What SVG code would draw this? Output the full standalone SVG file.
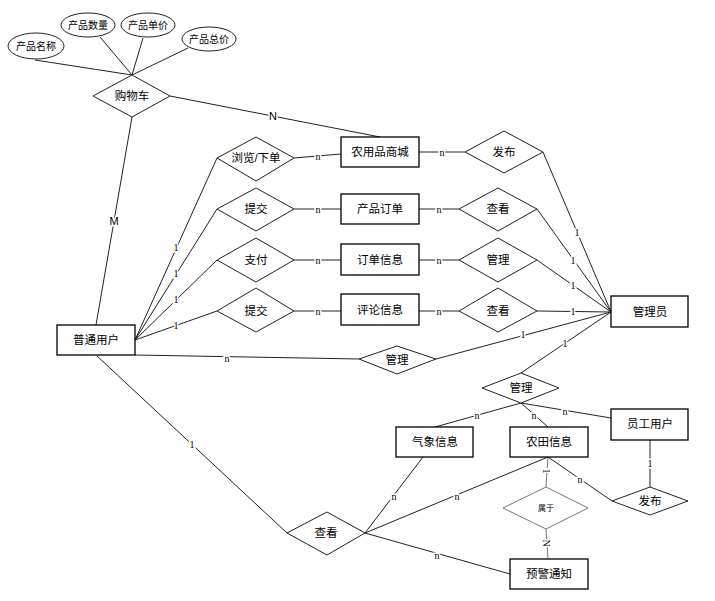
<svg xmlns="http://www.w3.org/2000/svg" width="715" height="601" viewBox="0 0 715 601">
<style>
.bg{fill:#fff}
.ent rect{fill:#fff;stroke:#000;stroke-width:1.3}
.rel polygon{fill:#fff;stroke:#222;stroke-width:1}
.attr ellipse{fill:#fff;stroke:#222;stroke-width:1}
text{font-family:"Liberation Sans","Noto Sans CJK SC",sans-serif;text-anchor:middle;dominant-baseline:central;fill:#000}
.t{font-size:11.5px}
.ta{font-size:10px}
.edges line{stroke:#222;stroke-width:1}
.edges line.g{stroke:#777}
.lbl{font-family:"Liberation Serif","Noto Sans CJK SC",serif;font-size:10px;paint-order:stroke;stroke:#fff;stroke-width:3px}
.lbs{font-size:11px;paint-order:stroke;stroke:#fff;stroke-width:3px}
</style>
<rect class="bg" x="0" y="0" width="715" height="601"/>
<g id="connectors" class="edges">
<line x1="35" y1="60" x2="132" y2="75"/>
<line x1="100" y1="37" x2="132" y2="75"/>
<line x1="143" y1="38" x2="132" y2="75"/>
<line x1="188" y1="48" x2="132" y2="75"/>
<line x1="170" y1="96" x2="380" y2="137"/>
<line x1="132" y1="117" x2="96" y2="325"/>
<line x1="135" y1="340" x2="217" y2="158"/>
<line x1="135" y1="340" x2="217" y2="209"/>
<line x1="135" y1="340" x2="217" y2="260"/>
<line x1="135" y1="340" x2="217" y2="311"/>
<line x1="294" y1="158" x2="341" y2="154"/>
<line x1="294" y1="209" x2="341" y2="209"/>
<line x1="294" y1="260" x2="341" y2="260"/>
<line x1="294" y1="311" x2="341" y2="311"/>
<line x1="419" y1="152" x2="465" y2="152"/>
<line x1="419" y1="209" x2="459" y2="209"/>
<line x1="419" y1="260" x2="459" y2="260"/>
<line x1="419" y1="311" x2="459" y2="311"/>
<line x1="543" y1="152" x2="611" y2="312"/>
<line x1="537" y1="209" x2="611" y2="312"/>
<line x1="537" y1="260" x2="611" y2="312"/>
<line x1="537" y1="311" x2="611" y2="312"/>
<line x1="436" y1="359" x2="611" y2="312"/>
<line x1="521" y1="373" x2="611" y2="312"/>
<line x1="135" y1="355" x2="359" y2="359"/>
<line x1="521" y1="403" x2="435" y2="427"/>
<line x1="521" y1="403" x2="548" y2="427"/>
<line x1="521" y1="403" x2="611" y2="418"/>
<line x1="650" y1="440" x2="650" y2="487"/>
<line x1="548" y1="457" x2="612" y2="501"/>
<line class="g" x1="548" y1="457" x2="546" y2="487"/>
<line class="g" x1="546" y1="529" x2="548" y2="559"/>
<line x1="97" y1="356" x2="287" y2="533"/>
<line x1="365" y1="533" x2="423" y2="457"/>
<line x1="365" y1="533" x2="548" y2="457"/>
<line x1="365" y1="533" x2="510" y2="574"/>
<text class="lbs" x="273" y="116">N</text>
<text class="lbs" x="114" y="221">M</text>
<text class="lbl" x="176" y="247">1</text>
<text class="lbl" x="176" y="273">1</text>
<text class="lbl" x="176" y="299">1</text>
<text class="lbl" x="176" y="325">1</text>
<text class="lbl" x="318" y="156">n</text>
<text class="lbl" x="318" y="209">n</text>
<text class="lbl" x="318" y="260">n</text>
<text class="lbl" x="318" y="311">n</text>
<text class="lbl" x="442" y="152">n</text>
<text class="lbl" x="439" y="209">n</text>
<text class="lbl" x="439" y="260">n</text>
<text class="lbl" x="439" y="311">n</text>
<text class="lbl" x="577" y="232">1</text>
<text class="lbl" x="573" y="260">1</text>
<text class="lbl" x="573" y="285">1</text>
<text class="lbl" x="573" y="311">1</text>
<text class="lbl" x="523" y="334">1</text>
<text class="lbl" x="565" y="343">1</text>
<text class="lbl" x="227" y="358">n</text>
<text class="lbl" x="477" y="415">n</text>
<text class="lbl" x="534" y="415">n</text>
<text class="lbl" x="565" y="411">n</text>
<text class="lbl" x="650" y="463">1</text>
<text class="lbl" x="580" y="479">n</text>
<text class="lbl" x="546" y="471" transform="rotate(90 546 471)">1</text>
<text class="lbl" x="546" y="543" transform="rotate(90 546 543)">N</text>
<text class="lbl" x="192" y="444">1</text>
<text class="lbl" x="394" y="496">n</text>
<text class="lbl" x="457" y="496">n</text>
<text class="lbl" x="437" y="555">n</text>
</g>
<g id="attr-name" class="attr"><ellipse cx="36" cy="46" rx="28" ry="13"/><text class="ta" x="36" y="46">产品名称</text></g>
<g id="attr-qty" class="attr"><ellipse cx="88" cy="25" rx="27" ry="12"/><text class="ta" x="88" y="25">产品数量</text></g>
<g id="attr-price" class="attr"><ellipse cx="148" cy="25" rx="27" ry="12"/><text class="ta" x="148" y="25">产品单价</text></g>
<g id="attr-total" class="attr"><ellipse cx="209" cy="39" rx="27" ry="12"/><text class="ta" x="209" y="39">产品总价</text></g>
<g id="rel-cart" class="rel"><polygon points="132,75 170,96 132,117 93,96"/><text class="t" x="132" y="96">购物车</text></g>
<g id="rel-browse" class="rel"><polygon points="256,137 294,158 256,181 217,158"/><text class="t" x="256" y="158">浏览/下单</text></g>
<g id="rel-submit1" class="rel"><polygon points="256,188 294,209 256,231 217,209"/><text class="t" x="256" y="209">提交</text></g>
<g id="rel-pay" class="rel"><polygon points="256,238 294,260 256,282 217,260"/><text class="t" x="256" y="260">支付</text></g>
<g id="rel-submit2" class="rel"><polygon points="256,288 294,311 256,332 217,311"/><text class="t" x="256" y="311">提交</text></g>
<g id="ent-mall" class="ent"><rect x="341" y="137" width="78" height="30"/><text class="t" x="380" y="152">农用品商城</text></g>
<g id="ent-order" class="ent"><rect x="341" y="194" width="78" height="30"/><text class="t" x="380" y="209">产品订单</text></g>
<g id="ent-orderinfo" class="ent"><rect x="341" y="244" width="78" height="31"/><text class="t" x="380" y="260">订单信息</text></g>
<g id="ent-review" class="ent"><rect x="341" y="294" width="78" height="31"/><text class="t" x="380" y="310">评论信息</text></g>
<g id="rel-publish1" class="rel"><polygon points="504,131 543,152 504,173 465,152"/><text class="t" x="504" y="152">发布</text></g>
<g id="rel-view1" class="rel"><polygon points="498,188 537,209 498,231 459,209"/><text class="t" x="498" y="209">查看</text></g>
<g id="rel-manage1" class="rel"><polygon points="498,238 537,260 498,282 459,260"/><text class="t" x="498" y="260">管理</text></g>
<g id="rel-view2" class="rel"><polygon points="498,288 537,311 498,332 459,311"/><text class="t" x="498" y="311">查看</text></g>
<g id="ent-admin" class="ent"><rect x="611" y="296" width="77" height="31"/><text class="t" x="650" y="312">管理员</text></g>
<g id="ent-user" class="ent"><rect x="57" y="325" width="78" height="30"/><text class="t" x="96" y="340">普通用户</text></g>
<g id="rel-manage2" class="rel"><polygon points="397,346 436,359 397,374 359,359"/><text class="t" x="397" y="360">管理</text></g>
<g id="rel-manage3" class="rel"><polygon points="521,373 559,388 521,403 482,388"/><text class="t" x="521" y="388">管理</text></g>
<g id="ent-weather" class="ent"><rect x="396" y="427" width="77" height="30"/><text class="t" x="435" y="442">气象信息</text></g>
<g id="ent-farm" class="ent"><rect x="510" y="427" width="78" height="30"/><text class="t" x="549" y="442">农田信息</text></g>
<g id="ent-staff" class="ent"><rect x="611" y="409" width="77" height="31"/><text class="t" x="650" y="424">员工用户</text></g>
<g id="rel-publish2" class="rel"><polygon points="650,487 688,501 650,515 612,501"/><text class="t" x="650" y="501">发布</text></g>
<g id="rel-belong" class="rel"><polygon points="546,487 588,508 546,529 503,508" style="stroke:#777"/><text x="546" y="508" style="font-size:8px">属于</text></g>
<g id="ent-warning" class="ent"><rect x="510" y="559" width="78" height="30"/><text class="t" x="549" y="574">预警通知</text></g>
<g id="rel-view3" class="rel"><polygon points="327,512 365,533 327,555 287,533"/><text class="t" x="326" y="533">查看</text></g>
</svg>
